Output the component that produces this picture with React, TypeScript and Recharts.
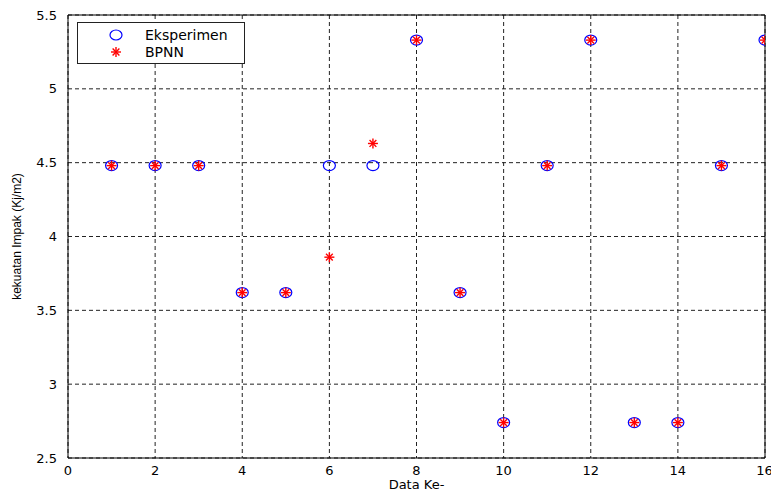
import { ScatterChart, Scatter, XAxis, YAxis, CartesianGrid, Legend, ReferenceLine } from 'recharts'

// data index 1..16
const dataIndex = [1, 2, 3, 4, 5, 6, 7, 8, 9, 10, 11, 12, 13, 14, 15, 16]
const eksperimen = [4.48, 4.48, 4.48, 3.62, 3.62, 4.48, 4.48, 5.33, 3.62, 2.74, 4.48, 5.33, 2.74, 2.74, 4.48, 5.33]
const bpnn = [4.48, 4.48, 4.48, 3.62, 3.62, 3.86, 4.63, 5.33, 3.62, 2.74, 4.48, 5.33, 2.74, 2.74, 4.48, 5.33]

const xTicks = [0, 2, 4, 6, 8, 10, 12, 14, 16]
const yTicks = [2.5, 3, 3.5, 4, 4.5, 5, 5.5]

const eksData = dataIndex.map((x, i) => ({ x, y: eksperimen[i] }))
const bpnnData = dataIndex.map((x, i) => ({ x, y: bpnn[i] }))

const FONT = '"DejaVu Sans", Verdana, sans-serif'

function Circle(props: any) {
  const { cx, cy } = props
  if (cx == null || cy == null) return null
  return <ellipse cx={cx} cy={cy} rx={6} ry={5} fill="none" stroke="#0000ff" strokeWidth={1.2} />
}

function Star(props: any) {
  const { cx, cy } = props
  if (cx == null || cy == null) return null
  const s = 5
  const d = 3.4
  return (
    <g stroke="#ff0000" strokeWidth={1.4}>
      <line x1={cx - s} y1={cy} x2={cx + s} y2={cy} />
      <line x1={cx} y1={cy - s} x2={cx} y2={cy + s} />
      <line x1={cx - d} y1={cy - d} x2={cx + d} y2={cy + d} />
      <line x1={cx - d} y1={cy + d} x2={cx + d} y2={cy - d} />
    </g>
  )
}

function LegendBox() {
  return (
    <div
      style={{
        position: 'absolute',
        left: 77,
        top: 22,
        width: 168,
        height: 42,
        border: '1px solid #222',
        background: '#fff',
        fontFamily: FONT,
        fontSize: 14,
        lineHeight: '16px',
        boxSizing: 'border-box',
      }}
    >
      <svg width={60} height={40} style={{ position: 'absolute', left: 0, top: 0 }}>
        <Circle cx={38} cy={12} />
        <Star cx={38} cy={29} />
      </svg>
      <div style={{ position: 'absolute', left: 67, top: 4 }}>Eksperimen</div>
      <div style={{ position: 'absolute', left: 67, top: 21 }}>BPNN</div>
    </div>
  )
}

export default function App() {
  return (
    <div style={{ position: 'relative', width: 771, height: 492, background: '#fff' }}>
      <style>{`body{margin:0}`}</style>
      <ScatterChart width={771} height={492} margin={{ top: 15, right: 6, left: 26, bottom: 0 }}>
        <CartesianGrid stroke="#222" strokeDasharray="4 3" strokeWidth={1} />
        <XAxis
          type="number"
          dataKey="x"
          domain={[0, 16]}
          ticks={xTicks}
          allowDataOverflow
          height={34}
          axisLine={{ stroke: '#000' }}
          tickLine={false}
          tick={{ fill: '#000', fontSize: 13, fontFamily: FONT }}
          tickMargin={2}
          label={{ value: 'Data Ke-', position: 'insideBottom', offset: 3, fill: '#000', fontSize: 13, fontFamily: FONT }}
        />
        <YAxis
          type="number"
          dataKey="y"
          domain={[2.5, 5.5]}
          ticks={yTicks}
          allowDataOverflow
          width={42}
          axisLine={{ stroke: '#000' }}
          tickLine={false}
          tick={{ fill: '#000', fontSize: 13, fontFamily: FONT }}
          tickMargin={5}
          label={{
            value: 'kekuatan Impak (Kj/m2)',
            angle: -90,
            position: 'insideLeft',
            offset: -9,
            style: { textAnchor: 'middle' },
            fill: '#000',
            fontSize: 12,
            fontFamily: '"Liberation Sans", Arial, sans-serif',
          }}
        />
        <ReferenceLine y={5.5} stroke="#000" />
        <ReferenceLine x={16} stroke="#000" />
        <Legend content={() => null} />
        <Scatter name="Eksperimen" data={eksData} shape={<Circle />} isAnimationActive={false} />
        <Scatter name="BPNN" data={bpnnData} shape={<Star />} isAnimationActive={false} />
      </ScatterChart>
      <LegendBox />
    </div>
  )
}
